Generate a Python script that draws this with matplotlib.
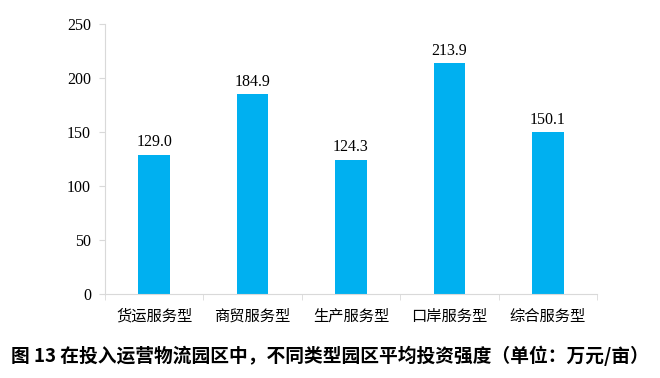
import matplotlib.pyplot as plt
import numpy as np

# 数据
categories = ['货运服务型', '商贸服务型', '生产服务型', '口岸服务型', '综合服务型']
values = [129.0, 184.9, 124.3, 213.9, 150.1]
yticks = [0, 50, 100, 150, 200, 250]
caption = '图 13 在投入运营物流园区中，不同类型园区平均投资强度（单位：万元/亩）'

serif = ['Liberation Serif', 'DejaVu Serif']
cjk = ['Noto Sans CJK SC', 'DejaVu Sans']

fig = plt.figure(figsize=(6.6, 3.78), dpi=100)
ax = fig.add_axes([0.159, 0.222, 0.7455, 0.7145])

x = np.arange(len(categories))
ax.bar(x, values, width=0.32, color='#00B0F0')

for xi, v in zip(x, values):
    ax.text(xi, v + 4, '%.1f' % v, ha='center', va='bottom',
            fontsize=11.5, family=serif)

ax.set_xlim(-0.5, len(categories) - 0.5)
ax.set_ylim(0, 250)
ax.set_yticks(yticks)
ax.set_yticklabels([str(t) for t in yticks], family=serif, fontsize=11.5)

# x轴刻度在类别之间
ax.set_xticks(x)
ax.set_xticklabels(categories, family=cjk, fontsize=11)
ax.tick_params(axis='x', length=0, pad=10)
ax.set_xticks(np.arange(-0.5, len(categories)), minor=True)
ax.tick_params(axis='x', which='minor', length=4, color='#D9D9D9')
ax.tick_params(axis='y', length=4, color='#D9D9D9', pad=6)

for s in ['top', 'right']:
    ax.spines[s].set_visible(False)
ax.spines['left'].set_color('#D9D9D9')
ax.spines['bottom'].set_color('#D9D9D9')

fig.text(0.5, 0.06, caption, ha='center', va='center', fontsize=13.5,
         fontweight='bold', family=cjk)

plt.savefig('out.png', dpi=100)
